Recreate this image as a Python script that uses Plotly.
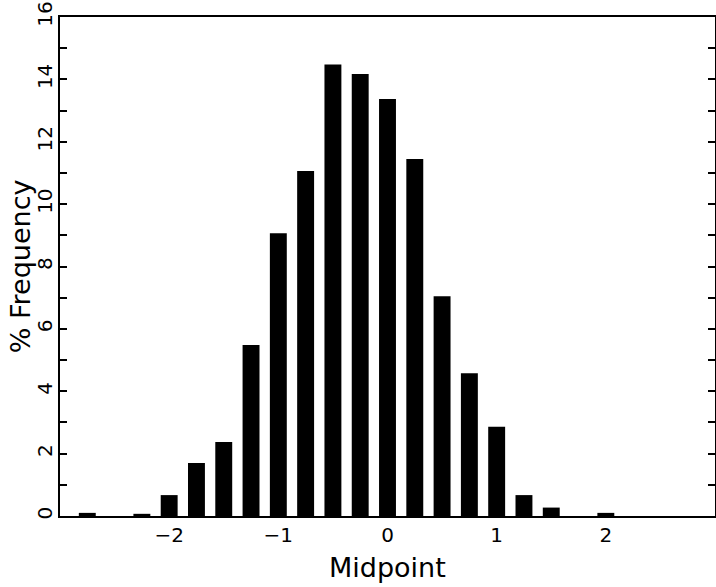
import plotly.graph_objects as go

midpoints = [-2.75, -2.5, -2.25, -2.0, -1.75, -1.5, -1.25, -1.0, -0.75, -0.5,
             -0.25, 0.0, 0.25, 0.5, 0.75, 1.0, 1.25, 1.5, 1.75, 2.0]
pct_freq = [0.1, 0.0, 0.07, 0.67, 1.7, 2.37, 5.48, 9.07, 11.06, 14.48,
            14.17, 13.37, 11.45, 7.05, 4.58, 2.86, 0.67, 0.27, 0.0, 0.1]

x_tickvals = [-2, -1, 0, 1, 2]
x_ticktext = ["\u22122", "\u22121", "0", "1", "2"]
y_tickvals = list(range(0, 17))
y_ticktext = [str(v) if v % 2 == 0 else "" for v in y_tickvals]

fig = go.Figure(go.Bar(x=midpoints, y=pct_freq, width=0.155,
                       marker=dict(color="black", line=dict(width=0))))

font = "DejaVu Sans"
fig.update_layout(
    width=716, height=587,
    margin=dict(l=60, r=1, t=17, b=71, autoexpand=False),
    plot_bgcolor="white", paper_bgcolor="white",
    showlegend=False,
    font=dict(family=font, color="black"),
    xaxis=dict(range=[-3, 3], tickvals=x_tickvals, ticktext=x_ticktext,
               showgrid=False, zeroline=False, showline=True, linecolor="black",
               linewidth=2, mirror=True, ticks="", tickfont=dict(size=20),
               ticklabelstandoff=0, automargin=False),
    yaxis=dict(range=[0, 16], tickvals=y_tickvals, ticktext=y_ticktext,
               showgrid=False, zeroline=False, showline=True, linecolor="black",
               linewidth=2, mirror="ticks", ticks="inside", ticklen=7,
               tickwidth=1.5, tickcolor="black", tickangle=-90,
               tickfont=dict(size=20), ticklabelstandoff=-2, automargin=False),
    annotations=[
        dict(text="Midpoint", xref="paper", yref="paper", x=0.5, y=-0.104,
             xanchor="center", yanchor="middle", showarrow=False,
             font=dict(size=27, family=font, color="black")),
        dict(text="% Frequency", xref="paper", yref="paper", x=-0.06, y=0.5,
             xanchor="center", yanchor="middle", textangle=-90, showarrow=False,
             font=dict(size=27, family=font, color="black")),
    ],
)

fig.write_html("out.html", config={"displayModeBar": False},
               post_script="document.body.style.margin='0';"
                           "document.body.style.padding='0';")
